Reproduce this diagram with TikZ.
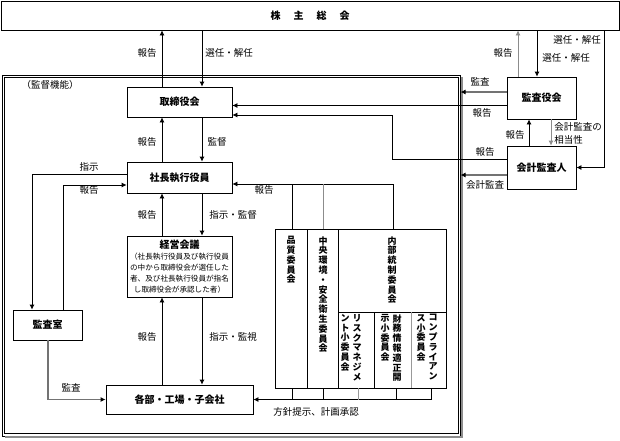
\documentclass[tikz,border=0pt]{standalone}
\usepackage{fontspec}
\setmainfont{Noto Sans CJK JP}
\usetikzlibrary{
  arrows.meta,
  calc
}
\tikzset{
  % For organisation boxes.
  unit/.style={
    draw,
    inner sep=0pt,
    font=\fontsize{10}{12}\selectfont\bfseries},
%
  % For the outer line of the supervising part.
  region/.style={
    draw,
    line width=0.7pt,
    inner sep=0pt,
    outer sep=0pt},
%
  % For texts next to connectors.
  tag/.style={
    inner sep=0pt,
    font=\fontsize{9.5}{13}\selectfont},
%
  % For committee names written top to bottom.
  tate/.style={
    inner sep=0pt,
    anchor=north,
    align=center,
    font=\fontsize{9}{9.8}\selectfont\bfseries},
%
  % For plain connectors with one arrow.
  arrow/.style={
    -{Latex[length=5pt,width=5pt]}},
%
  % For connectors drawn in grey.
  grey arrow/.style={
    arrow,
    draw=black!45},
%
  % For audit connectors.
  audit/.style={
    draw=black!55,
    line width=1.6pt,
    -{Latex[length=5pt,width=5pt,black]}}
}

\begin{document}
\begin{tikzpicture}[x=1pt, y=-1pt, line width=0.8pt]
  \useasboundingbox (0,0) rectangle (620,440);

  % The double frame round the supervising part, with its grey edge.
  \node[region, minimum width=458pt, minimum height=361pt] (kantoku) at (231.5,255.5) {};
  \draw[line width=0.7pt]
    ([xshift=2.2pt,yshift=2.2pt]kantoku.south west)
      rectangle ([xshift=-2.2pt,yshift=-2.2pt]kantoku.north east);
  \draw[black!45, line width=1.6pt]
    ([xshift=1.2pt,yshift=-2pt]kantoku.north east)
      -- ([xshift=1.2pt,yshift=-1.2pt]kantoku.south east)
      -- ([xshift=2pt,yshift=-1.2pt]kantoku.south west);
  \node[tag] (kantoku title) at (50,85) {（監督機能）};

  % Boxes.
  \node[unit, minimum width=618pt, minimum height=29pt] (soukai) at (310,15.5)
    {株\hspace{1.3em}主\hspace{1.3em}総\hspace{1.3em}会};
  \node[unit, minimum width=105pt, minimum height=30pt] (torishimari) at (179.5,102) {取締役会};
  \node[unit, minimum width=105pt, minimum height=31pt] (shacho) at (179.5,177.5) {社長執行役員};
  \node[unit, minimum width=105pt, minimum height=61pt, align=center,
        font=\fontsize{7.6}{11}\selectfont] (keiei) at (179.5,266.5)
    {{\fontsize{10}{12}\selectfont\bfseries 経営会議}\\
     （社長執行役員及び執行役員\\
     の中から取締役会が選任した\\
     者、及び社長執行役員が指名\\
     し取締役会が承認した者）};
  \node[unit, minimum width=69pt, minimum height=30pt] (kansashitsu) at (47.5,325) {監査室};
  \node[unit, minimum width=147pt, minimum height=29pt] (kakubu) at (179.5,399.5) {各部・工場・子会社};
  \node[unit, minimum width=69pt, minimum height=42pt] (kansayaku) at (541.5,98) {監査役会};
  \node[unit, minimum width=69pt, minimum height=43pt] (kaikei) at (541.5,167.5) {会計監査人};

  % Committees, with their inner dividers.
  \node[draw, inner sep=0pt, minimum width=171pt, minimum height=159pt] (iinkai) at (360.5,308.5) {};
  \draw (307,229) -- (307,388);
  \draw (338,229) -- (338,388);
  \draw (338,312) -- (446,312);
  \draw (374,312) -- (374,388);
  \draw[black!40] (411,312) -- (411,388);
  \node[tate] (hinshitsu) at (291,236) {品\\質\\委\\員\\会};
  \node[tate] (kankyo) at (323,236) {中\\央\\環\\境\\・\\安\\全\\衛\\生\\委\\員\\会};
  \node[tate] (naibu) at (392,236) {内\\部\\統\\制\\委\\員\\会};
  \node[tate] (risk right) at (357,314) {リ\\ス\\ク\\マ\\ネ\\ジ\\メ};
  \node[tate] (risk left) at (345,314) {ン\\ト\\小\\委\\員\\会};
  \node[tate] (zaimu right) at (397,314) {財\\務\\情\\報\\適\\正\\開};
  \node[tate] (zaimu left) at (385,314) {示\\小\\委\\員\\会};
  \node[tate] (compliance right) at (433,314) {コ\\ン\\プ\\ラ\\イ\\ア\\ン};
  \node[tate] (compliance left) at (421,314) {ス\\小\\委\\員\\会};

  % Lanes of the vertical connectors.
  \coordinate (up lane) at (162,0);
  \coordinate (down lane) at (202,0);
  \coordinate (order lane) at (32,0);
  \coordinate (office report lane) at (63,0);
  \coordinate (office audit lane) at (48,0);
  \coordinate (board lane) at (392,0);
  \coordinate (gm up lane) at (518,0);
  \coordinate (gm down lane) at (537,0);
  \coordinate (gm far lane) at (604,0);
  \coordinate (ca up lane) at (529,0);
  \coordinate (ca down lane) at (551,0);

  % Main line: shareholders, board, president, meeting, departments.
  \draw[arrow] (up lane |- torishimari.north) -- (up lane |- soukai.south);
  \draw[arrow] (down lane |- soukai.south) -- (down lane |- torishimari.north);
  \draw[arrow] (up lane |- shacho.north) -- (up lane |- torishimari.south);
  \draw[arrow] (down lane |- torishimari.south) -- (down lane |- shacho.north);
  \draw[arrow] (up lane |- keiei.north) -- (up lane |- shacho.south);
  \draw[arrow] (down lane |- shacho.south) -- (down lane |- keiei.north);
  \draw[arrow] (up lane |- kakubu.north) -- (up lane |- keiei.south);
  \draw[arrow] (down lane |- keiei.south) -- (down lane |- kakubu.north);
  \node[tag] (report 1) at (147,53) {報告};
  \node[tag] (elect 1) at (229,53) {選任・解任};
  \node[tag] (report 2) at (147,142) {報告};
  \node[tag] (supervise 1) at (217,142) {監督};
  \node[tag] (report 3) at (147,215) {報告};
  \node[tag] (supervise 2) at (233,215) {指示・監督};
  \node[tag] (report 4) at (147,337) {報告};
  \node[tag] (supervise 3) at (233,337) {指示・監視};

  % Audit office.
  \coordinate (order start) at ([yshift=3.5pt]shacho.west);
  \coordinate (office report) at ([yshift=-7.5pt]shacho.west);
  \draw[arrow] (order start) -| (order lane |- kansashitsu.north);
  \draw[arrow] (office report lane |- kansashitsu.north) |- (office report);
  \draw[audit] (office audit lane |- kansashitsu.south) |- (kakubu.west);
  \node[tag] (order) at (89,167) {指示};
  \node[tag] (report 5) at (89,190) {報告};
  \node[tag] (audit 1) at (71,388) {監査};

  % Committees to president and to departments.
  \coordinate (report line) at ([yshift=-6.5pt]shacho.east);
  \coordinate (report end) at (393,0);
  \draw[arrow] (report end |- iinkai.north) |- (report line);
  \foreach \x/\c in {292/black, 323/black!45}
    {\coordinate (drop) at (\x,0);
     \draw[\c] (drop |- iinkai.north) -- (drop |- report line);}
  \coordinate (policy end) at (431,0);
  \draw[arrow] (policy end |- iinkai.south) |- (kakubu.east);
  \foreach \x/\c in {292/black, 323/black, 358/black!40, 396/black}
    {\coordinate (drop) at (\x,0);
     \draw[\c] (drop |- iinkai.south) -- (drop |- kakubu.east);}
  \node[tag] (report 6) at (264,190) {報告};
  \node[tag] (policy) at (316,412) {方針提示、計画承認};

  % Auditors.
  \coordinate (kansa out) at ([yshift=6pt]kansayaku.west);
  \coordinate (kansa report) at ([yshift=-7.5pt]kansayaku.west);
  \coordinate (kaikei report) at ([yshift=8.5pt]kaikei.west);
  \coordinate (kaikei out) at ([yshift=-7.5pt]kaikei.west);
  \coordinate (board in) at ([yshift=-13pt]torishimari.east);
  \draw[audit] (kansa out) -- (kansa out -| kantoku.east);
  \draw[arrow] (kansa report) -- (kansa report -| torishimari.east);
  \draw[arrow] (kaikei report) -| (board lane |- board in) -- (board in);
  \draw[audit] (kaikei out) -- (kaikei out -| kantoku.east);
  \draw[grey arrow] (gm up lane |- kansayaku.north) -- (gm up lane |- soukai.south);
  \draw[arrow] (gm down lane |- soukai.south) -- (gm down lane |- kansayaku.north);
  \draw[arrow] (gm far lane |- soukai.south) |- (kaikei.east);
  \draw[arrow] (ca up lane |- kaikei.north) -- (ca up lane |- kansayaku.south);
  \draw[grey arrow] (ca down lane |- kansayaku.south) -- (ca down lane |- kaikei.north);
  \node[tag] (report 7) at (503,53) {報告};
  \node[tag] (elect 2) at (577,40) {選任・解任};
  \node[tag] (elect 3) at (566,58) {選任・解任};
  \node[tag] (audit 2) at (480,82) {監査};
  \node[tag] (report 8) at (482,113) {報告};
  \node[tag] (report 9) at (485,152) {報告};
  \node[tag] (audit 3) at (485,185) {会計監査};
  \node[tag] (report 10) at (515,135) {報告};
  \node[tag, anchor=west, align=left] (fitness) at (554,133.5) {会計監査の\\相当性};
\end{tikzpicture}
\end{document}
